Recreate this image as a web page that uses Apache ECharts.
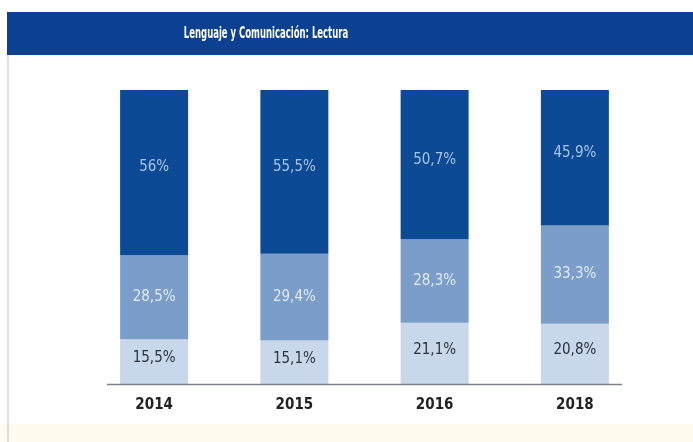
<!DOCTYPE html>
<html>
<head>
<meta charset="utf-8">
<script src="https://cdn.jsdelivr.net/npm/echarts@6/dist/echarts.min.js"></script>
<style>html,body{margin:0;padding:0;background:#fff;}#c{width:693px;height:442px;}</style>
</head>
<body>
<div id="c"></div>
<script>
const titleText = 'Lenguaje y Comunicación: Lectura';
const years = ['2014', '2015', '2016', '2018'];
const bottomVals = [15.5, 15.1, 21.1, 20.8];
const middleVals = [28.5, 29.4, 28.3, 33.3];
const topVals = [56, 55.5, 50.7, 45.9];

const fmt = p => String(p.value).replace('.', ',') + '%';
const labelFont = '"DejaVu Sans Condensed", "Liberation Sans Narrow", sans-serif';

const chart = echarts.init(document.getElementById('c'), null, {renderer: 'canvas'});
chart.setOption({
  backgroundColor: '#ffffff',
  animation: false,
  graphic: [
    {type: 'rect', shape: {x: 0, y: 424, width: 693, height: 18}, style: {fill: '#fffcef'}, z: 0},
    {type: 'rect', shape: {x: 7, y: 12, width: 686, height: 43}, style: {fill: '#0b4190'}, z: 1},
    {type: 'line', shape: {x1: 8, y1: 55, x2: 8, y2: 442}, style: {stroke: '#cfd3d8', lineWidth: 1.5}, z: 1},
    {type: 'text', x: 266, y: 34, scaleX: 0.59, style: {text: titleText, fill: '#ffffff', font: 'bold 16px ' + labelFont, align: 'center', verticalAlign: 'middle'}, z: 2},
    {type: 'line', shape: {x1: 107, y1: 384.5, x2: 622, y2: 384.5}, style: {stroke: '#7b828c', lineWidth: 1.5}, z: 10}
  ],
  grid: {left: 84, right: 48, top: 90, bottom: 57},
  xAxis: {
    type: 'category', data: years,
    axisLine: {show: false}, axisTick: {show: false},
    axisLabel: {color: '#222222', fontWeight: 'bold', fontSize: 15, fontFamily: labelFont, margin: 13}
  },
  yAxis: {type: 'value', min: 0, max: 100, show: false, splitLine: {show: false}},
  series: [
    {name: 'bajo', type: 'bar', stack: 't', data: bottomVals, barWidth: 68,
      itemStyle: {color: '#c9d7ea'},
      label: {show: true, position: 'inside', offset: [0, -4], formatter: fmt, color: '#2a3340', fontSize: 15, fontFamily: labelFont}},
    {name: 'medio', type: 'bar', stack: 't', data: middleVals, barWidth: 68,
      itemStyle: {color: '#7b9dc9'},
      label: {show: true, position: 'inside', formatter: fmt, color: '#e2eaf5', fontSize: 15, fontFamily: labelFont}},
    {name: 'alto', type: 'bar', stack: 't', data: topVals, barWidth: 68,
      itemStyle: {color: '#0c4a96'},
      label: {show: true, position: 'inside', offset: [0, -5], formatter: fmt, color: '#a9c4e6', fontSize: 15, fontFamily: labelFont}}
  ]
});
</script>
</body>
</html>
